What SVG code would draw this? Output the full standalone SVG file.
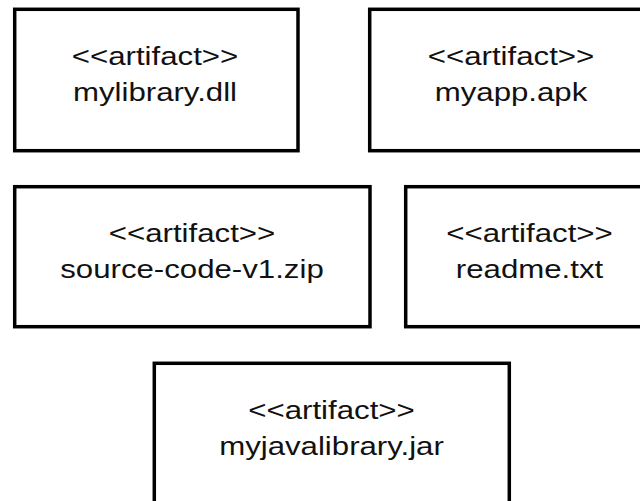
<svg xmlns="http://www.w3.org/2000/svg" width="640" height="501" viewBox="0 0 640 501">
  <style>
    .box { fill: #ffffff; stroke: #000000; stroke-width: 3.5; }
    .lbl { font-family: "Liberation Sans", Arial, sans-serif; font-size: 26px; fill: #111111; text-anchor: middle; }
  </style>
  <rect width="640" height="501" fill="#ffffff"/>

  <g id="mylibrary-dll">
    <rect class="box" x="14.7" y="9.3" width="283.3" height="141.4"/>
    <g transform="translate(155,0) scale(1.2,1)">
      <text class="lbl" x="0" y="65">&lt;&lt;artifact&gt;&gt;</text>
      <text class="lbl" x="0" y="101">mylibrary.dll</text>
    </g>
  </g>

  <g id="myapp-apk">
    <rect class="box" x="369.7" y="9.3" width="283" height="141.4"/>
    <g transform="translate(511,0) scale(1.2,1)">
      <text class="lbl" x="0" y="65">&lt;&lt;artifact&gt;&gt;</text>
      <text class="lbl" x="0" y="101">myapp.apk</text>
    </g>
  </g>

  <g id="source-code-zip">
    <rect class="box" x="14.7" y="186.7" width="355.3" height="140"/>
    <g transform="translate(192,0) scale(1.2,1)">
      <text class="lbl" x="0" y="241.7">&lt;&lt;artifact&gt;&gt;</text>
      <text class="lbl" x="0" y="277.7">source-code-v1.zip</text>
    </g>
  </g>

  <g id="readme-txt">
    <rect class="box" x="405.7" y="186.7" width="246.6" height="140"/>
    <g transform="translate(529.5,0) scale(1.2,1)">
      <text class="lbl" x="0" y="241.7">&lt;&lt;artifact&gt;&gt;</text>
      <text class="lbl" x="0" y="277.7">readme.txt</text>
    </g>
  </g>

  <g id="myjavalibrary-jar">
    <rect class="box" x="154.3" y="363.3" width="355" height="142"/>
    <g transform="translate(331.5,0) scale(1.2,1)">
      <text class="lbl" x="0" y="419.3">&lt;&lt;artifact&gt;&gt;</text>
      <text class="lbl" x="0" y="455.3">myjavalibrary.jar</text>
    </g>
  </g>

  <g id="connectors"/>
</svg>
